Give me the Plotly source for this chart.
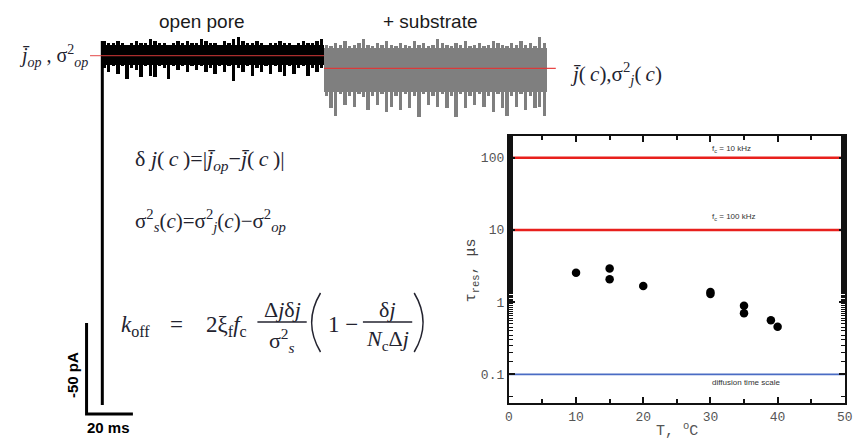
import plotly.graph_objects as go

W, H = 860, 441

# ---------------- Right panel data ----------------
temperature_C = [10, 15, 15, 20, 30, 30, 35, 35, 39, 40]
tau_res_us = [2.55, 2.93, 2.08, 1.67, 1.38, 1.30, 0.89, 0.70, 0.56, 0.455]
cutoff_tau_us = [100, 10]
cutoff_labels = ["f<sub>c</sub> = 10 kHz", "f<sub>c</sub> = 100 kHz"]
diffusion_tau_us = 0.1
diffusion_label = "diffusion time scale"
x_tickvals = [0, 10, 20, 30, 40, 50]
x_minor_vals = [5, 15, 25, 35, 45]
y_tickvals = [0.1, 1, 10, 100]
y_ticktext = ["0.1", "1", "10", "100"]

# ---------------- Left panel (current trace) data ----------------
open_pore_mean_pA = 192
substrate_mean_pA = 185
sample_ms = 2
# solid core of the noise band (deviation from mean, pA)
open_core_dev = [6, -5]
sub_core_dev = [11, -13]
# envelope of the noisy current, deviation from the mean (pA), per 2 ms sample
open_top_dev = [8, 7, 7, 8, 7, 6, 7, 8, 7, 7, 9, 8, 7, 7, 6, 7, 8, 7, 8, 7, 7, 9, 8, 7,
                7, 6, 8, 7, 9, 10, 8, 7, 7, 8, 7, 6, 7, 7, 8, 7, 7, 6, 7, 8, 7, 7, 8, 9]
open_bot_dev = [-7, -9, -6, -10, -6, -13, -7, -8, -12, -6, -11, -12, -6, -7, -13, -6,
                -8, -6, -9, -6, -8, -6, -9, -7, -10, -6, -9, -6, -14, -7, -9, -6,
                -11, -7, -9, -6, -10, -6, -9, -11, -6, -10, -7, -6, -11, -7, -9, -7]
sub_top_dev = [13, 12, 14, 13, 15, 12, 13, 14, 16, 13, 12, 14, 13, 15, 13, 12, 14, 13,
               12, 15, 13, 14, 12, 13, 16, 14, 13, 12, 14, 13, 15, 12, 13, 14, 12, 13,
               15, 14, 13, 12, 14, 13, 15, 13, 14, 12, 17, 14]
sub_bot_dev = [-15, -22, -26, -14, -20, -15, -21, -14, -16, -23, -15, -20, -14, -24,
               -21, -15, -23, -14, -22, -15, -27, -14, -20, -15, -21, -14, -22, -15,
               -27, -14, -22, -15, -20, -14, -21, -15, -24, -14, -22, -26, -15, -21,
               -14, -23, -15, -22, -21, -26]
scale_bar_pA = 50
scale_bar_ms = 20

# ---------------- geometry helpers (layout only) ----------------
PX_PER_MS = 2.35
PX_PER_PA = 1.82
T0_PX = 99        # pixel x of t = 0
BASE_PX = 405     # pixel y of zero current


def px(x):
    return x / W


def py(y):
    return 1 - y / H


fig = go.Figure()

n_open = len(open_top_dev)
t_open = [sample_ms * (i + 0.5) for i in range(n_open)]
t_sub = [sample_ms * (n_open + i + 0.5) for i in range(len(sub_top_dev))]
t_switch = sample_ms * n_open
t_end = t_switch + sample_ms * len(sub_top_dev)


def band(t, mean, core, top, bot, color):
    # solid core
    fig.add_trace(go.Bar(
        x=[(t[0] + t[-1]) / 2], base=[mean + core[1]], y=[core[0] - core[1]],
        width=[t[-1] - t[0] + sample_ms], marker=dict(color=color, line=dict(width=0)),
        xaxis="x2", yaxis="y2", showlegend=False, hoverinfo="skip"))
    # noise excursions
    fig.add_trace(go.Bar(
        x=t, base=[mean + b for b in bot], y=[a - b for a, b in zip(top, bot)],
        width=sample_ms * 0.72, marker=dict(color=color, line=dict(width=0)),
        xaxis="x2", yaxis="y2", showlegend=False, hoverinfo="skip"))


band(t_open, open_pore_mean_pA, open_core_dev, open_top_dev, open_bot_dev, "#000000")
band(t_sub, substrate_mean_pA, sub_core_dev, sub_top_dev, sub_bot_dev, "#7f7f7f")

# initial rise from zero current to open-pore level
fig.add_trace(go.Scatter(
    x=[0.3, 0.3], y=[0, open_pore_mean_pA + open_top_dev[0]], mode="lines",
    line=dict(color="#000000", width=3), xaxis="x2", yaxis="y2",
    showlegend=False, hoverinfo="skip"))

# mean lines
fig.add_trace(go.Scatter(
    x=[-5, t_switch], y=[open_pore_mean_pA, open_pore_mean_pA], mode="lines",
    line=dict(color="rgba(225,60,60,0.75)", width=1.2), xaxis="x2", yaxis="y2",
    showlegend=False, hoverinfo="skip"))
fig.add_trace(go.Scatter(
    x=[t_switch, t_end + 4], y=[substrate_mean_pA, substrate_mean_pA], mode="lines",
    line=dict(color="rgba(230,50,50,0.9)", width=1.2), xaxis="x2", yaxis="y2",
    showlegend=False, hoverinfo="skip"))

# scale bar
bar_t0 = -6.5
bar_y0 = -5
fig.add_trace(go.Scatter(
    x=[bar_t0, bar_t0, bar_t0 + scale_bar_ms],
    y=[bar_y0 + scale_bar_pA, bar_y0, bar_y0], mode="lines",
    line=dict(color="#000000", width=3), xaxis="x2", yaxis="y2",
    showlegend=False, hoverinfo="skip"))

# ---- right panel ----
for v in cutoff_tau_us:
    fig.add_trace(go.Scatter(x=[0, 50], y=[v, v], mode="lines",
                             line=dict(color="#e8201c", width=2.5),
                             showlegend=False, hoverinfo="skip"))
fig.add_trace(go.Scatter(x=[0, 50], y=[diffusion_tau_us, diffusion_tau_us], mode="lines",
                         line=dict(color="#4a6cc4", width=1.6),
                         showlegend=False, hoverinfo="skip"))
fig.add_trace(go.Scatter(x=temperature_C, y=tau_res_us, mode="markers",
                         marker=dict(color="#000000", size=8.5),
                         showlegend=False))

mono = "Liberation Mono, Courier New, monospace"
serif = "Liberation Serif, Times New Roman, serif"
sans = "Liberation Sans, Arial, sans-serif"

fig.update_layout(
    width=W, height=H, autosize=False,
    margin=dict(l=0, r=0, t=0, b=0),
    paper_bgcolor="white", plot_bgcolor="rgba(0,0,0,0)",
    barmode="overlay", bargap=0,
    xaxis=dict(domain=[px(512), px(852.7)], range=[0, 50], anchor="y",
               showline=True, linecolor="#111", linewidth=2, mirror="ticks",
               ticks="inside", ticklen=6, tickwidth=1.5, tickcolor="#111",
               tickvals=x_tickvals, showgrid=False, zeroline=False,
               ticklabeloverflow="allow",
               tickfont=dict(family=mono, size=13, color="#555"),
               minor=dict(tickvals=x_minor_vals, ticks="inside", ticklen=4,
                          tickwidth=1.5, tickcolor="#111", showgrid=False)),
    yaxis=dict(domain=[py(403), py(135.7)], type="log", range=[-1.397, 2.305],
               anchor="x", showline=True, linecolor="#111", linewidth=2,
               mirror="ticks", ticks="inside", ticklen=6, tickwidth=1.5,
               tickcolor="#111", tickvals=y_tickvals, ticktext=y_ticktext,
               showgrid=False, zeroline=False,
               tickfont=dict(family=mono, size=13, color="#555"),
               minor=dict(ticks="inside", ticklen=4, tickwidth=1.2,
                          tickcolor="#111", showgrid=False)),
    xaxis2=dict(domain=[0, 1], anchor="y2", visible=False,
                range=[-T0_PX / PX_PER_MS, (W - T0_PX) / PX_PER_MS]),
    yaxis2=dict(domain=[0, 1], anchor="x2", visible=False,
                range=[(BASE_PX - H) / PX_PER_PA, BASE_PX / PX_PER_PA]),
)

ann = []


def add_text(text, x, y, size, family, color="#222", xanchor="center",
             angle=0, yanchor="middle"):
    ann.append(dict(text=text, x=px(x), y=py(y), xref="paper", yref="paper",
                    showarrow=False, xanchor=xanchor, yanchor=yanchor,
                    textangle=angle, font=dict(size=size, family=family, color=color)))


eq_col = "#23232f"
ts = "\u2009"
add_text("open pore", 201, 21, 19, sans, "#1a1a1a")
add_text("+ substrate", 433, 21, 19, sans, "#1a1a1a")
add_text("<i>j\u0304</i><sub><i>op</i></sub> , σ<sup>2</sup><sub><i>op</i></sub>",
         13, 56, 20, serif, eq_col, xanchor="left")
add_text(f"<i>j\u0304</i>({ts}<i>c</i>),σ<sup>2</sup><sub><i>j</i></sub>({ts}<i>c</i>)",
         572, 73, 21, serif, eq_col, xanchor="left")
add_text(f"δ <i>j</i>({ts}<i>c</i>{ts})=|<i>j\u0304</i><sub><i>op</i></sub>−<i>j\u0304</i>({ts}<i>c</i>{ts})|",
         131, 160, 22, serif, eq_col, xanchor="left")
add_text("σ<sup>2</sup><sub><i>s</i></sub>(<i>c</i>)=σ<sup>2</sup><sub><i>j</i></sub>(<i>c</i>)−σ<sup>2</sup><sub><i>op</i></sub>",
         131, 221, 21, serif, eq_col, xanchor="left")
# k_off equation
add_text("<i>k</i><sub>off</sub>", 117, 326, 23, serif, eq_col, xanchor="left")
add_text("=", 175, 324, 23, serif, eq_col)
add_text("2ξ<sub>f</sub><i>f</i><sub>c</sub>", 203, 326, 23, serif, eq_col, xanchor="left")
add_text("Δ<i>j</i>δ<i>j</i>", 282, 309, 22, serif, eq_col)
add_text("σ<sup>2</sup><sub><i>s</i></sub>", 282, 340, 22, serif, eq_col)
add_text("1 −", 327, 324, 23, serif, eq_col, xanchor="left")
add_text("δ<i>j</i>", 389, 309, 22, serif, eq_col)
add_text("<i>N</i><sub>c</sub>Δ<i>j</i>", 389, 340, 22, serif, eq_col)

# scale bar labels
add_text("<b>-50 pA</b>", 69, 375, 15, sans, "#000", angle=-90)
add_text("<b>20 ms</b>", 106, 427, 15, sans, "#000")

# right panel labels
add_text(cutoff_labels[0], 716, 149, 8, sans, "#333", xanchor="left")
add_text(cutoff_labels[1], 716, 217, 8, sans, "#333", xanchor="left")
add_text(diffusion_label, 716, 382, 8, sans, "#333", xanchor="left")
add_text("τ<sub>res</sub>, μs", 475, 270, 15, mono, "#444", angle=-90)
add_text("T, <sup>o</sup>C", 683, 430, 15, mono, "#555")

fig.update_layout(annotations=ann)

# fraction bars and big parentheses
shapes = []
for x0, x1 in [(257, 307), (364, 414)]:
    shapes.append(dict(type="line", xref="paper", yref="paper",
                       x0=px(x0), x1=px(x1), y0=py(322), y1=py(322),
                       line=dict(color=eq_col, width=1.3)))


def paren(xe, xc, y_top, y_bot):
    ym = (y_top + y_bot) / 2
    return dict(type="path", xref="paper", yref="paper",
                path=f"M {px(xe)} {py(y_top)} Q {px(xc)} {py(ym)} {px(xe)} {py(y_bot)}",
                line=dict(color=eq_col, width=1.5))


shapes.append(paren(321, 303, 293, 352))
shapes.append(paren(416, 434, 293, 352))
fig.update_layout(shapes=shapes)

fig.write_html("out.html", config={"displayModeBar": False},
               post_script="document.body.style.margin='0';document.body.style.padding='0';")
